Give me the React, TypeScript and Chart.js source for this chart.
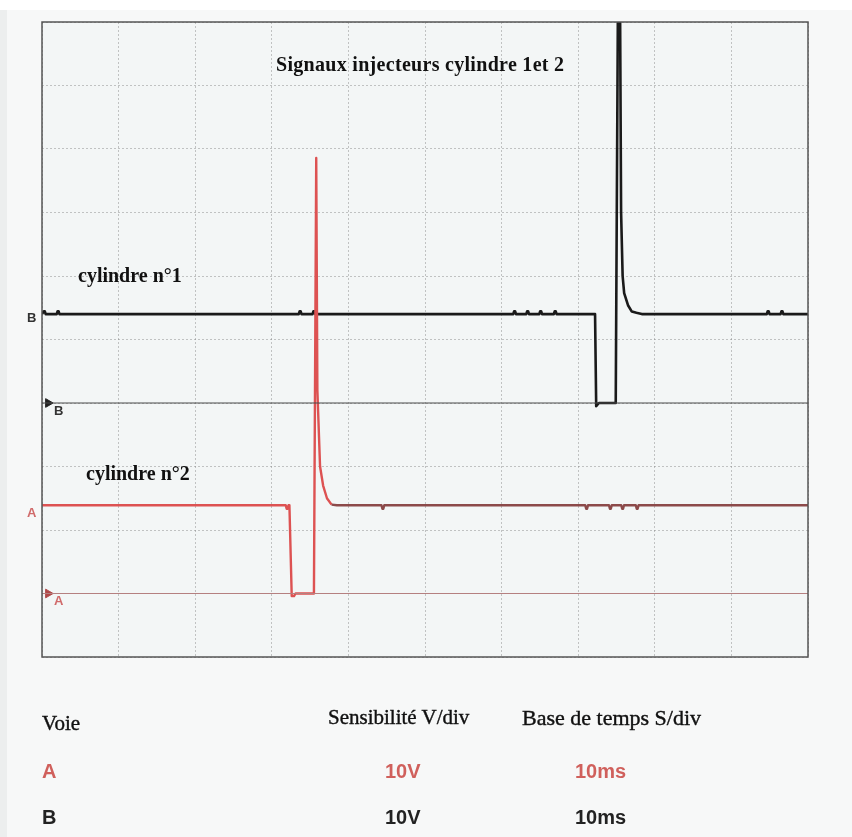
import { useEffect, useRef } from "react";
import { Chart, registerables } from "chart.js";

Chart.register(...registerables);

// Time axis in ms (10 ms/div, 10 divisions), amplitude in divisions (10 V/div)
const timeRange = [0, 100];
const divRange = [0, 10];
const timeStep = 10;
const divStep = 1;

// Channel B (cylindre n°1) - black trace
const traceBTime = [0, 72.2, 72.35, 72.7, 74.9, 75.2, 75.45, 75.6, 75.8, 76.0, 76.5, 77.0, 77.6, 78.3, 100];
const traceBDiv = [5.4, 5.4, 3.95, 4.0, 4.0, 10.6, 10.6, 7.0, 6.0, 5.73, 5.54, 5.44, 5.42, 5.4, 5.4];
const traceBTicks = [0.3, 2.1, 33.7, 35.5, 61.7, 63.4, 65.1, 67.0, 94.8, 96.6];
const traceBTickHeight = 0.045;
const groundB = 4;

// Channel A (cylindre n°2) - red trace
const traceATime = [0, 32.3, 32.6, 32.9, 33.1, 35.5, 35.8, 35.95, 36.3, 36.7, 37.2, 37.8, 38.5, 100];
const traceADiv = [2.39, 2.39, 0.96, 0.96, 1.0, 1.0, 7.86, 4.2, 3.0, 2.7, 2.5, 2.4, 2.39, 2.39];
const traceATicks = [32.0, 44.5, 71.1, 74.2, 75.8, 77.7];
const traceATickHeight = -0.055;
const groundA = 1;

type Pt = { x: number; y: number };

function buildTrace(times: number[], values: number[], ticks: number[], h: number): Pt[] {
  const base: Pt[] = times.map((t, i) => ({ x: t, y: values[i] }));
  const levelAt = (t: number) => {
    for (let i = 0; i < times.length - 1; i++) {
      if (t >= times[i] && t <= times[i + 1]) return values[i + 1];
    }
    return values[values.length - 1];
  };
  const extra: Pt[] = [];
  ticks.forEach((t) => {
    const lv = levelAt(t);
    extra.push({ x: t - 0.18, y: lv }, { x: t - 0.06, y: lv + h }, { x: t + 0.06, y: lv + h }, { x: t + 0.18, y: lv });
  });
  return [...base, ...extra].sort((a, b) => a.x - b.x);
}

const framePlugin = {
  id: "frame",
  beforeDraw(chart: any) {
    const { ctx, chartArea: a } = chart;
    ctx.save();
    ctx.fillStyle = "#f3f6f6";
    ctx.fillRect(a.left, a.top, a.right - a.left, a.bottom - a.top);
    ctx.restore();
  },
  afterDatasetsDraw(chart: any) {
    const { ctx, chartArea: a } = chart;
    ctx.save();
    ctx.strokeStyle = "#555";
    ctx.lineWidth = 1.5;
    ctx.strokeRect(a.left, a.top, a.right - a.left, a.bottom - a.top);
    ctx.restore();
  },
};

const serif = '"Liberation Serif", "Times New Roman", serif';
const sans = '"Liberation Sans", Arial, sans-serif';

function Label(props: {
  x: number;
  base: number;
  size: number;
  text: string;
  color?: string;
  bold?: boolean;
  family: string;
  spacing?: number;
  stroke?: number;
}) {
  const k = props.family === serif ? 0.8375 : 0.8465;
  return (
    <div
      style={{
        position: "absolute",
        left: props.x,
        top: props.base - k * props.size,
        fontSize: props.size,
        lineHeight: 1,
        fontFamily: props.family,
        fontWeight: props.bold ? "bold" : "normal",
        color: props.color || "#111",
        whiteSpace: "nowrap",
        letterSpacing: props.spacing || 0,
        WebkitTextStroke: props.stroke ? `${props.stroke}px ${props.color || "#111"}` : undefined,
      }}
    >
      {props.text}
    </div>
  );
}

export default function App() {
  const ref = useRef<HTMLCanvasElement>(null);

  useEffect(() => {
    const canvas = ref.current;
    if (!canvas) return;
    const dataB = buildTrace(traceBTime, traceBDiv, traceBTicks, traceBTickHeight);
    const dataA = buildTrace(traceATime, traceADiv, traceATicks, traceATickHeight);
    const chart = new Chart(canvas, {
      type: "line",
      data: {
        datasets: [
          {
            label: "masse B",
            data: [
              { x: timeRange[0], y: groundB },
              { x: timeRange[1], y: groundB },
            ],
            borderColor: "#4a4a4a",
            borderWidth: 1.2,
            pointRadius: 0,
          },
          {
            label: "masse A",
            data: [
              { x: timeRange[0], y: groundA },
              { x: timeRange[1], y: groundA },
            ],
            borderColor: "#b58080",
            borderWidth: 1.2,
            pointRadius: 0,
          },
          {
            label: "repère B",
            data: [{ x: 0.8, y: groundB }],
            showLine: false,
            pointStyle: "triangle",
            rotation: 90,
            pointRadius: 5,
            backgroundColor: "#222",
            borderColor: "#222",
          },
          {
            label: "repère A",
            data: [{ x: 0.8, y: groundA }],
            showLine: false,
            pointStyle: "triangle",
            rotation: 90,
            pointRadius: 5,
            backgroundColor: "#b04848",
            borderColor: "#b04848",
          },
          {
            label: "A",
            data: dataA,
            borderColor: "#dd5252",
            borderWidth: 2.4,
            borderJoinStyle: "round",
            pointRadius: 0,
            segment: {
              borderColor: (c: any) => (c.p0.parsed.x >= 37.8 ? "#8c4a4a" : "#dd5252"),
            },
          },
          {
            label: "B",
            data: dataB,
            borderColor: "#1a1a1a",
            borderWidth: 2.6,
            borderJoinStyle: "round",
            pointRadius: 0,
          },
        ],
      },
      options: {
        responsive: false,
        animation: false,
        events: [],
        layout: { padding: { left: 42, top: 22, right: 44, bottom: 180 } },
        plugins: { legend: { display: false }, tooltip: { enabled: false } },
        scales: {
          x: {
            type: "linear",
            min: timeRange[0],
            max: timeRange[1],
            ticks: { display: false, stepSize: timeStep },
            grid: { color: "rgba(130,130,130,0.45)", lineWidth: 1, drawTicks: false },
            border: { display: false, dash: [2, 2] },
          },
          y: {
            type: "linear",
            min: divRange[0],
            max: divRange[1],
            ticks: { display: false, stepSize: divStep },
            grid: { color: "rgba(130,130,130,0.45)", lineWidth: 1, drawTicks: false },
            border: { display: false, dash: [2, 2] },
          },
        },
      },
      plugins: [framePlugin],
    });
    return () => chart.destroy();
  }, []);

  return (
    <div
      style={{
        position: "fixed",
        left: 0,
        top: 0,
        width: 852,
        height: 837,
        background: "#f7f8f8",
        overflow: "hidden",
      }}
    >
      <div style={{ position: "absolute", left: 0, top: 0, width: 852, height: 10, background: "#ffffff" }} />
      <div style={{ position: "absolute", left: 0, top: 10, width: 7, height: 827, background: "#eceeee" }} />
      <canvas ref={ref} width={852} height={837} style={{ position: "absolute", left: 0, top: 0 }} />
      <Label x={276} base={71} size={20} bold family={serif} text="Signaux injecteurs cylindre 1et 2" spacing={0.3} />
      <Label x={78} base={282} size={20} bold family={serif} text="cylindre n°1" />
      <Label x={86} base={480} size={20} bold family={serif} text="cylindre n°2" />
      <Label x={27} base={322} size={13} bold family={sans} color="#333" text="B" />
      <Label x={54} base={415} size={13} bold family={sans} color="#333" text="B" />
      <Label x={27} base={517} size={13} bold family={sans} color="#d06a6a" text="A" />
      <Label x={54} base={605} size={13} bold family={sans} color="#d06a6a" text="A" />
      <Label x={42} base={731} size={21} family={serif} text="Voie" stroke={0.4} />
      <Label x={328} base={725} size={21} family={serif} text="Sensibilité V/div" stroke={0.4} />
      <Label x={522} base={725} size={22} family={serif} text="Base de temps S/div" stroke={0.4} />
      <Label x={42} base={778} size={20} bold family={sans} color="#d0605c" text="A" />
      <Label x={385} base={778} size={20} bold family={sans} color="#d0605c" text="10V" />
      <Label x={575} base={778} size={20} bold family={sans} color="#d0605c" text="10ms" />
      <Label x={42} base={824} size={20} bold family={sans} color="#222" text="B" />
      <Label x={385} base={824} size={20} bold family={sans} color="#222" text="10V" />
      <Label x={575} base={824} size={20} bold family={sans} color="#222" text="10ms" />
    </div>
  );
}
